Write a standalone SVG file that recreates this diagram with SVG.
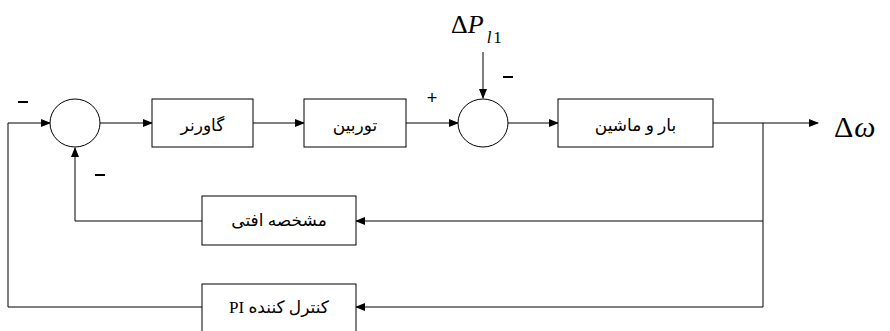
<svg xmlns="http://www.w3.org/2000/svg" width="890" height="331" viewBox="0 0 890 331">
<style>
.blk{fill:#fff;stroke:#000;stroke-width:1}
.sum{fill:#fff;stroke:#000;stroke-width:1}
.fa{font-family:"Liberation Serif","DejaVu Serif","DejaVu Sans",serif;font-size:17px;fill:#000;text-anchor:middle}
.sg{font-family:"Liberation Sans","DejaVu Sans",sans-serif;font-size:18px;fill:#000;text-anchor:middle}
.mt{font-family:"Liberation Serif","DejaVu Serif",serif;fill:#000}
.ln{fill:none;stroke:#000;stroke-width:1}
</style>
<defs>
<marker id="ah" markerWidth="10" markerHeight="8" refX="9" refY="4" orient="auto" markerUnits="userSpaceOnUse">
<path d="M0,0 L10,4 L0,8 Z" fill="#000"/>
</marker>
</defs>
<g id="connectors">
<path class="ln" d="M100,123 H152" marker-end="url(#ah)"/>
<path class="ln" d="M253,123 H304" marker-end="url(#ah)"/>
<path class="ln" d="M406,123 H458" marker-end="url(#ah)"/>
<path class="ln" d="M508,123 H558" marker-end="url(#ah)"/>
<path class="ln" d="M713,123 H818" marker-end="url(#ah)"/>
<path class="ln" d="M483,52 V98" marker-end="url(#ah)"/>
<path class="ln" d="M763,123 V307 H356" marker-end="url(#ah)"/>
<path class="ln" d="M763,221 H356" marker-end="url(#ah)"/>
<path class="ln" d="M202,221 H75 V148" marker-end="url(#ah)"/>
<path class="ln" d="M202,307 H8 V123 H50" marker-end="url(#ah)"/>
</g>
<g id="sum1"><ellipse class="sum" cx="75" cy="123" rx="25" ry="24"/></g>
<g id="sum2"><ellipse class="sum" cx="483" cy="123" rx="25" ry="24"/></g>
<g id="governor"><rect class="blk" x="152" y="99" width="101" height="48"/><text class="fa" x="202.5" y="131">گاورنر</text></g>
<g id="turbine"><rect class="blk" x="304" y="99" width="102" height="48"/><text class="fa" x="355" y="131">توربین</text></g>
<g id="load"><rect class="blk" x="558" y="99" width="155" height="48"/><text class="fa" x="635.5" y="131">بار و ماشین</text></g>
<g id="droop"><rect class="blk" x="202" y="196" width="154" height="49"/><text class="fa" x="279" y="226">مشخصه افتی</text></g>
<g id="pi"><rect class="blk" x="202" y="284" width="154" height="60"/><text class="fa" x="279" y="313" direction="rtl" unicode-bidi="embed">کنترل کننده PI</text></g>
<g id="labels">
<text class="mt" x="451" y="33" font-size="26">Δ<tspan font-style="italic">P</tspan><tspan font-style="italic" font-size="17" dx="3" dy="10">l</tspan><tspan font-size="17" dx="2">1</tspan></text>
<text class="mt" x="834" y="137" font-size="30">Δ<tspan font-style="italic" dx="1">ω</tspan></text>
<rect x="18" y="101" width="10" height="2" fill="#000"/>
<rect x="95" y="174" width="10" height="2" fill="#000"/>
<rect x="503" y="76" width="10" height="2" fill="#000"/>
<text class="sg" x="432" y="104">+</text>
</g>
</svg>
